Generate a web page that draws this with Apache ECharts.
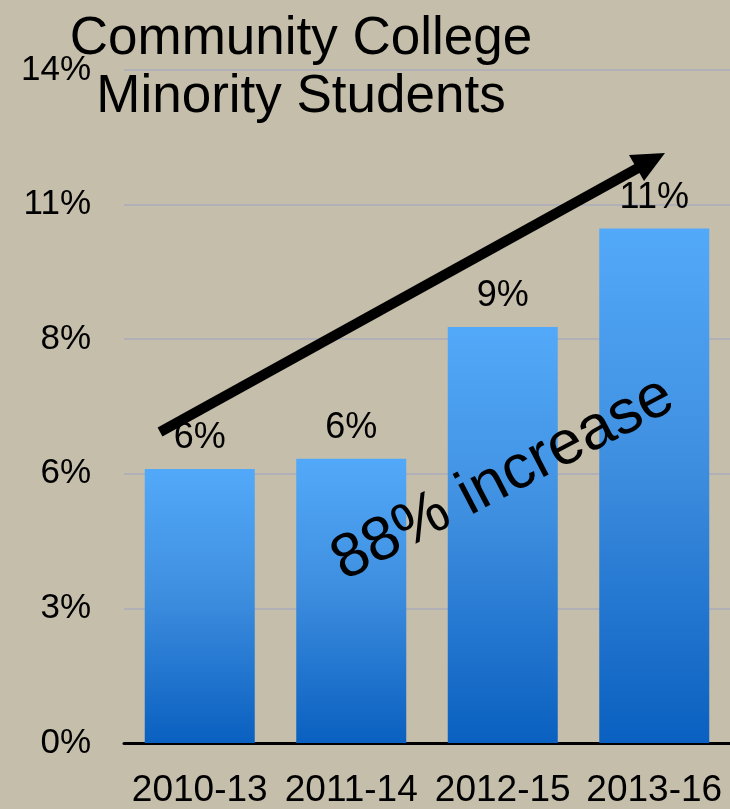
<!DOCTYPE html>
<html>
<head>
<meta charset="utf-8">
<script src="https://cdn.jsdelivr.net/npm/echarts@6/dist/echarts.min.js"></script>
<style>
html,body{margin:0;padding:0;background:#C4BEAB;}
#chart{width:730px;height:809px;}
</style>
</head>
<body>
<div id="chart"></div>
<script>
const categories = ['2010-13', '2011-14', '2012-15', '2013-16'];
const shareValues = [5.6, 5.81, 8.5, 10.51];
const barLabels = ['6%', '6%', '9%', '11%'];
const yTicks = { min: 0, max: 13.75, interval: 2.75 };
const titleLines = ['Community College', 'Minority Students'];
const annotationText = '88% increase';

const chart = echarts.init(document.getElementById('chart'), null, { renderer: 'canvas' });
const FONT = '"Liberation Sans", Arial, Helvetica, sans-serif';

const option = {
  backgroundColor: '#C4BEAB',
  animation: false,
  grid: { left: 124, width: 608, top: 70, bottom: 64, containLabel: false },
  xAxis: {
    type: 'category',
    data: categories,
    axisLine: { lineStyle: { color: '#000', width: 3 } },
    axisTick: { show: false },
    axisLabel: {
      interval: 0,
      hideOverlap: false,
      color: '#000',
      fontFamily: FONT,
      fontSize: 37,
      margin: 29
    }
  },
  yAxis: {
    type: 'value',
    min: yTicks.min,
    max: yTicks.max,
    interval: yTicks.interval,
    axisLine: { show: false },
    axisTick: { show: false },
    splitLine: { lineStyle: { color: '#B0B0B6', width: 2 } },
    axisLabel: {
      color: '#000',
      fontFamily: FONT,
      fontSize: 35,
      margin: 33,
      formatter: v => Math.round(v) + '%'
    }
  },
  series: [{
    type: 'bar',
    data: shareValues,
    barWidth: 110,
    itemStyle: {
      color: new echarts.graphic.LinearGradient(0, 0, 0, 1, [
        { offset: 0, color: '#53A9F9' },
        { offset: 0.45, color: '#3F8FE0' },
        { offset: 1, color: '#0A60C0' }
      ])
    },
    label: {
      show: true,
      position: 'top',
      distance: 13,
      color: '#000',
      fontFamily: FONT,
      fontSize: 36,
      formatter: p => barLabels[p.dataIndex]
    }
  }],
  graphic: [
    {
      type: 'text',
      x: 301,
      y: 10,
      z: 10,
      style: {
        text: titleLines.join('\n'),
        font: '53px ' + FONT,
        lineHeight: 58,
        fill: '#000',
        textAlign: 'center',
        textVerticalAlign: 'top'
      }
    },
    {
      type: 'line',
      z: 20,
      shape: { x1: 160, y1: 432, x2: 638, y2: 168 },
      style: { stroke: '#000', lineWidth: 10, lineCap: 'butt' }
    },
    {
      type: 'polygon',
      z: 20,
      shape: { points: [[665, 153], [629, 155], [644, 181]] },
      style: { fill: '#000' }
    },
    {
      type: 'text',
      x: 503,
      y: 479,
      rotation: 0.48,
      z: 20,
      style: {
        text: annotationText,
        font: '62px ' + FONT,
        fill: '#000',
        textAlign: 'center',
        textVerticalAlign: 'middle'
      }
    }
  ]
};
chart.setOption(option);
</script>
</body>
</html>
